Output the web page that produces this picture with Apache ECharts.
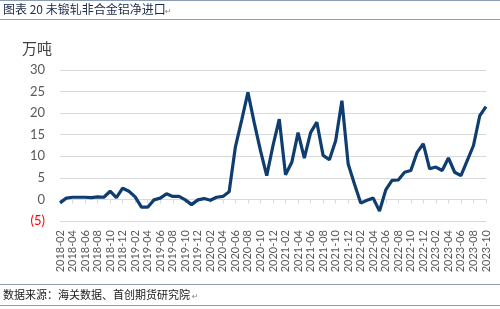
<!DOCTYPE html>
<html><head><meta charset="utf-8">
<script src="https://cdn.jsdelivr.net/npm/echarts@6/dist/echarts.min.js"></script>
<style>html,body{margin:0;padding:0;background:#fff}#c{width:500px;height:309px}</style>
</head><body><div id="c"></div>
<script>
const months = [];
for (let y = 2018; y <= 2023; y++) for (let m = 1; m <= 12; m++) {
  if ((y === 2018 && m < 2) || (y === 2023 && m > 10)) continue;
  months.push(y + '-' + String(m).padStart(2, '0'));
}
const netImports = [
  -0.8, 0.3, 0.5, 0.5, 0.5, 0.4, 0.6, 0.5, 1.9, 0.4, 2.6, 1.9,
  0.6, -1.8, -1.8, -0.1, 0.3, 1.3, 0.7, 0.7, -0.1, -1.2, -0.1, 0.2,
  -0.2, 0.5, 0.7, 1.8, 12.2, 18.4, 24.8, 17.8, 11.3, 5.5, 12.5, 18.6,
  5.7, 8.6, 15.5, 9.6, 15.5, 17.9, 10.2, 9.2, 13.6, 22.9, 8.2, 3.6,
  -0.85, -0.2, 0.3, -2.7, 2.2, 4.4, 4.5, 6.3, 6.7, 10.9, 12.9, 7.1,
  7.5, 6.7, 9.6, 6.3, 5.5, 9.0, 12.5, 19.4, 21.5
];
const yMin = -5, yMax = 30, yStep = 5;
const titleText = '图表 20 未锻轧非合金铝净进口';
const unitText = '万吨';
const sourceText = '数据来源：海关数据、首创期货研究院';

const chart = echarts.init(document.getElementById('c'), null, {renderer: 'canvas'});
const labelFont = 'Lato, "Open Sans", sans-serif';
chart.setOption({
  animation: false,
  grid: {left: 60, right: 14, top: 70, bottom: 88},
  xAxis: [{
    type: 'category', data: months, boundaryGap: false, position: 'bottom',
    axisLine: {show: false, onZero: false}, axisTick: {show: false},
    axisLabel: {interval: 1, rotate: 90, color: '#595959', fontSize: 11, fontFamily: labelFont, margin: 9}
  }, {
    type: 'category', data: months, boundaryGap: false, position: 'bottom',
    axisLine: {show: true, onZero: true, lineStyle: {color: '#d9d9d9', width: 1}},
    axisTick: {show: true, interval: 1, length: 4, lineStyle: {color: '#d9d9d9'}},
    axisLabel: {show: false}
  }],
  yAxis: {
    type: 'value', min: yMin, max: yMax, interval: yStep,
    axisLine: {show: false}, axisTick: {show: false},
    splitLine: {lineStyle: {color: '#d9d9d9', width: 1}},
    axisLabel: {
      margin: 15, fontSize: 13, fontFamily: labelFont, color: '#595959',
      formatter: v => v < 0 ? '{neg|(' + Math.abs(v) + ')}' : String(v),
      rich: {neg: {color: '#ff0000', fontSize: 13, fontFamily: labelFont}}
    }
  },
  series: [{
    type: 'line', data: netImports, xAxisIndex: 0, showSymbol: false, symbol: 'none',
    lineStyle: {color: '#0f3d70', width: 3.2}
  }],
  graphic: [
    {type: 'line', shape: {x1: 0, y1: 0.5, x2: 500, y2: 0.5}, style: {stroke: '#8c9db3', lineWidth: 1}},
    {type: 'text', left: 3, top: 3, style: {text: titleText, fill: '#1a2a4a', font: '12px "Noto Sans CJK SC", sans-serif'}},
    {type: 'text', left: 165, top: 8, z: 10, style: {text: '↵', fill: '#888', font: '8px "DejaVu Sans", sans-serif'}},
    {type: 'line', shape: {x1: 0, y1: 19.5, x2: 500, y2: 19.5}, style: {stroke: '#8c9db3', lineWidth: 1}},
    {type: 'text', left: 22, top: 41, style: {text: unitText, fill: '#404040', font: '15px "Noto Sans CJK SC", sans-serif'}},
    {type: 'line', shape: {x1: 0, y1: 284.5, x2: 500, y2: 284.5}, style: {stroke: '#8c9db3', lineWidth: 1}},
    {type: 'text', left: 3, top: 289, style: {text: sourceText, fill: '#1a1a1a', font: '11px "Noto Sans CJK SC", sans-serif'}},
    {type: 'text', left: 192, top: 293, z: 10, style: {text: '↵', fill: '#888', font: '8px "DejaVu Sans", sans-serif'}},
    {type: 'line', shape: {x1: 0, y1: 305.5, x2: 500, y2: 305.5}, style: {stroke: '#8c9db3', lineWidth: 1}}
  ]
});
</script></body></html>
